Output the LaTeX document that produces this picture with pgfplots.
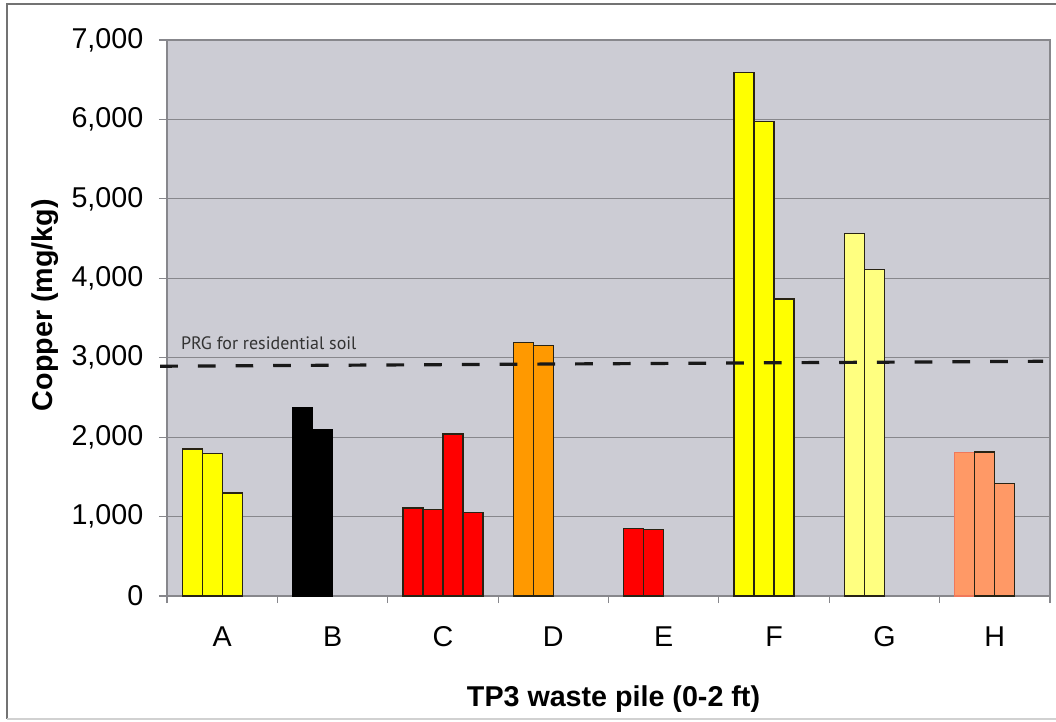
\documentclass[border=0pt]{standalone}
\usepackage{fontspec}
\setmainfont{Liberation Sans}
\newfontfamily\prgfont{PT Sans}
\usepackage{pgfplots}
\pgfplotsset{compat=1.18}
\definecolor{plotbg}{RGB}{204,204,212}
\definecolor{gridc}{RGB}{135,135,140}
\definecolor{barline}{RGB}{40,35,20}
\definecolor{cyel}{RGB}{255,255,0}
\definecolor{cred}{RGB}{255,0,0}
\definecolor{corange}{RGB}{255,153,0}
\definecolor{clyel}{RGB}{255,255,128}
\definecolor{csalmon}{RGB}{255,153,102}
\definecolor{csalmonedge}{RGB}{240,120,90}
\newcommand\bw{0.1812}
\newcommand\sA{-0.2718}
\newcommand\sB{-0.0906}
\newcommand\sC{0.0906}
\newcommand\sD{0.2718}
\newcommand\onebar[4]{\addplot[ybar, bar width=\bw, bar shift=#1, fill=#2, draw=#3, line width=1pt] coordinates {#4};}
\begin{document}
\begin{tikzpicture}
\path[use as bounding box] (-125.25pt,-93.75pt) rectangle (666.75pt,447pt);
\fill[white] (-125.25pt,-93.75pt) rectangle (666.75pt,447pt);
\draw[black!55, line width=1.3pt] (670pt,444pt) -- (-120pt,444pt) -- (-120pt,-92.25pt);
\draw[black!18, line width=1.2pt] (-120pt,-92.25pt) -- (670pt,-92.25pt);
\begin{axis}[
  at={(0pt,0pt)}, anchor=south west,
  scale only axis, width=662.25pt, height=417pt,
  xmin=-0.5, xmax=7.5, ymin=0, ymax=7000,
  clip=false,
  axis background/.style={fill=plotbg},
  axis line style={draw=gridc, line width=0.8pt},
  ytick={0,1000,...,7000},
  ymajorgrids, grid style={draw=gridc, line width=0.8pt},
  scaled y ticks=false,
  yticklabel style={xshift=-8.25pt, /pgf/number format/.cd, 1000 sep={,}, assume math mode=true},
  xtick={0,...,7}, xticklabels={A,B,C,D,E,F,G,H},
  xticklabel style={yshift=-13.5pt},
  xtick pos=bottom, ytick pos=left,
  major x tick style={draw=none},
  minor xtick={-0.5,0.5,...,7.5},
  tick align=outside, major tick length=6pt, minor tick length=5.25pt,
  tick style={draw=gridc, line width=0.8pt},
  every tick label/.append style={font=\fontsize{21.5}{26}\selectfont, text=black},
  xlabel={TP3 waste pile (0-2 ft)},
  ylabel={Copper (mg/kg)},
  label style={font=\bfseries\fontsize{21.5}{26}\selectfont},
  xlabel style={at={(axis description cs:0.5057,-0.198)}, anchor=base},
  ylabel style={at={(axis description cs:-0.1302,0.523)}, anchor=base},
]
% A
\onebar{\sA}{cyel}{barline}{(0,1849)}
\onebar{\sB}{cyel}{barline}{(0,1795)}
\onebar{\sC}{cyel}{barline}{(0,1297)}
% B
\onebar{\sA}{black}{black}{(1,2372)}
\onebar{\sB}{black}{black}{(1,2096)}
% C
\onebar{\sA}{cred}{barline}{(2,1109)}
\onebar{\sB}{cred}{barline}{(2,1088)}
\onebar{\sC}{cred}{barline}{(2,2038)}
\onebar{\sD}{cred}{barline}{(2,1054)}
% D
\onebar{\sA}{corange}{barline}{(3,3192)}
\onebar{\sB}{corange}{barline}{(3,3155)}
% E
\onebar{\sA}{cred}{barline}{(4,847)}
\onebar{\sB}{cred}{barline}{(4,838)}
% F
\onebar{\sA}{cyel}{barline}{(5,6595)}
\onebar{\sB}{cyel}{barline}{(5,5977)}
\onebar{\sC}{cyel}{barline}{(5,3739)}
% G
\onebar{\sA}{clyel}{barline}{(6,4568)}
\onebar{\sB}{clyel}{barline}{(6,4110)}
% H
\onebar{\sA}{csalmon}{csalmonedge}{(7,1808)}
\onebar{\sB}{csalmon}{barline}{(7,1812)}
\onebar{\sC}{csalmon}{barline}{(7,1414)}
% PRG line
\addplot[black!90, line width=2.4pt, dash pattern=on 13.3pt off 15pt, forget plot] coordinates {(-0.563,2893) (7.437,2955)};
\end{axis}
\node[anchor=base west, inner sep=0pt, font=\prgfont\fontsize{13.5}{16}\selectfont, text=black!80] at (10.3pt,184.5pt) {PRG for residential soil};
\end{tikzpicture}
\end{document}
